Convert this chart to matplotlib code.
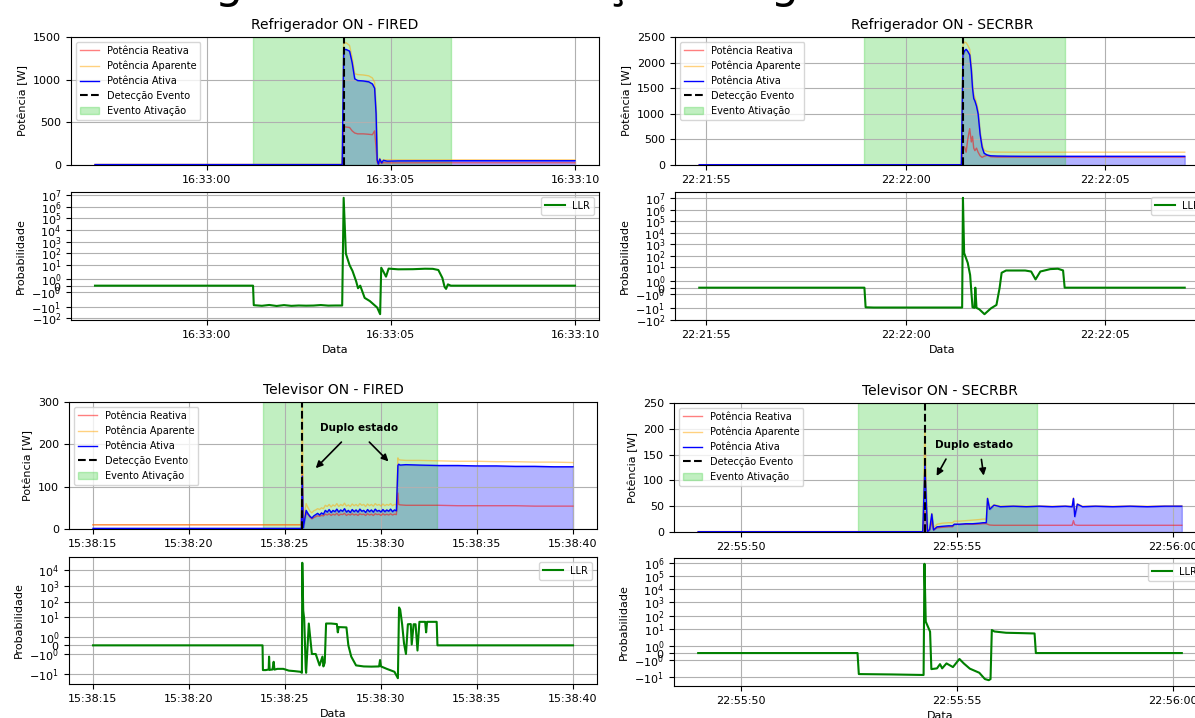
import numpy as np
import matplotlib
matplotlib.use('Agg')
import matplotlib.pyplot as plt
import matplotlib.dates as mdates
from matplotlib.ticker import MultipleLocator
from datetime import datetime, timedelta

plt.rcParams['xtick.labelsize'] = 8
plt.rcParams['ytick.labelsize'] = 8
plt.rcParams['axes.labelsize'] = 8
plt.rcParams['legend.fontsize'] = 7

# ---------------- Refrigerador ON - FIRED (segundos após 16:33:00)
rf_base = datetime(2024, 1, 1, 16, 33, 0)
rf_t = [-3.03, 3.68, 3.72, 3.78, 3.88, 3.95, 4.02, 4.1, 4.25, 4.4, 4.5, 4.56, 4.6,
        4.63, 4.66, 4.7, 4.75, 4.8, 4.9, 5.2, 6, 7, 8, 9, 10.0]
rf_ativa = [5, 5, 1350, 1355, 1335, 1200, 1010, 990, 985, 975, 950, 900, 600,
            60, 10, 70, 25, 55, 45, 48, 49, 50, 50, 50, 50]
rf_aparente = [8, 8, 1420, 1435, 1400, 1260, 1070, 1060, 1055, 1045, 1020, 970, 650,
               80, 20, 80, 40, 62, 60, 60, 60, 61, 61, 61, 61]
rf_reativa = [3, 3, 450, 445, 440, 400, 375, 365, 365, 360, 355, 400, 200,
              30, 10, 30, 20, 27, 25, 25, 26, 26, 26, 26, 26]
rf_llr_t = [-3.03, 1.26, 1.28, 1.5, 1.7, 1.9, 2.1, 2.3, 2.5, 2.7, 2.9, 3.1, 3.3, 3.5,
            3.68, 3.72, 3.78, 3.88, 3.96, 4.06, 4.11, 4.17, 4.29, 4.43, 4.63, 4.71,
            4.74, 4.8, 4.87, 4.94, 5.2, 5.6, 5.93, 6.14, 6.29, 6.40, 6.46, 6.50, 6.55,
            6.63, 10.0]
rf_llr = [0, 0, -7.5, -8.5, -7.2, -8.8, -7.4, -8.6, -8.0, -8.3, -8.1, -7.3, -8.2, -8.0,
          -8.0, 6e6, 91, 9.3, 2.9, 0.66, -0.4, 0.0, -1.9, -3.3, -12, -45,
          5.5, 2.5, 1.4, 4.6, 4.0, 4.1, 4.5, 4.4, 3.5, 1.2, -0.2, -0.5, 0.2,
          0, 0]
rf_det = 3.72
rf_span = [1.26, 6.64]

# ---------------- Refrigerador ON - SECRBR (segundos após 22:22:00)
rs_base = datetime(2024, 1, 1, 22, 22, 0)
rs_t = [-5.17, 1.40, 1.44, 1.48, 1.52, 1.56, 1.61, 1.65, 1.68, 1.71, 1.74, 1.78, 1.82,
        1.87, 1.92, 1.97, 2.05, 2.14, 2.3, 2.6, 3.0, 4.0, 5.0, 6.0, 7.0]
rs_ativa = [5, 5, 2150, 2230, 2260, 2220, 2150, 1850, 1500, 1300, 1250, 1150, 1000,
            600, 350, 230, 195, 180, 175, 172, 170, 170, 170, 170, 170]
rs_aparente = [8, 8, 2330, 2400, 2390, 2340, 2260, 1950, 1580, 1380, 1320, 1220, 1070,
               660, 400, 290, 265, 255, 252, 250, 250, 250, 250, 250, 250]
rs_reativa = [3, 3, 360, 350, 250, 500, 710, 450, 560, 330, 280, 330, 250,
              180, 150, 170, 190, 160, 155, 155, 155, 155, 155, 155, 155]
rs_llr_t = [-5.17, -1.03, -1.0, -0.8, 0, 1.0, 1.42, 1.44, 1.47, 1.56, 1.62, 1.68, 1.73,
            1.75, 1.78, 1.85, 1.98, 2.14, 2.28, 2.36, 2.41, 2.52, 3.0, 3.15, 3.26, 3.38,
            3.63, 3.82, 3.95, 3.99, 7.0]
rs_llr = [0, 0, -8, -8.4, -8.4, -8.4, -8.4, 1.1e7, 166, 23, 2, -8, -9,
          0, -9, -12, -32, -10, -5, 0, 3.1, 4.9, 4.9, 4.0, 1.3, 4.0,
          6.5, 7.0, 5.0, 0, 0]
rs_det = 1.43
rs_span = [-1.03, 4.0]

# ---------------- Televisor ON - FIRED (segundos após 15:38:15)
tf_base = datetime(2024, 1, 1, 15, 38, 15)
tf_t = [0, 10.85, 10.9, 10.95,
        11.0, 11.1, 11.2, 11.3, 11.4, 11.5, 11.6, 11.7, 11.8, 11.9,
        12.0, 12.1, 12.2, 12.3, 12.4, 12.5, 12.6, 12.7, 12.8, 12.9,
        13.0, 13.1, 13.2, 13.3, 13.4, 13.5, 13.6, 13.7, 13.8, 13.9,
        14.0, 14.1, 14.2, 14.3, 14.4, 14.5, 14.6, 14.7, 14.8, 14.9,
        15.0, 15.1, 15.2, 15.3, 15.4, 15.5, 15.6, 15.7, 15.8,
        15.88, 15.92, 16.0, 16.3, 17, 18, 19, 20, 21, 22, 23, 24, 25]
tf_ativa = [1.5, 1.5, 125, 3,
            15, 44, 36, 30, 26, 31, 34, 37, 33, 38,
            35, 44, 40, 46, 39, 44, 41, 47, 40, 45,
            42, 48, 40, 44, 39, 46, 41, 45, 40, 47,
            42, 44, 39, 46, 41, 45, 40, 47, 42, 44,
            40, 46, 41, 45, 42, 47, 41, 45, 43,
            150, 153, 151, 152, 151, 150, 150, 149, 149, 148, 148, 147, 147]
tf_aparente = [10, 10, 310, 8,
               30, 60, 50, 42, 38, 43, 45, 48, 46, 50,
               48, 56, 53, 58, 52, 57, 54, 60, 53, 58,
               55, 61, 54, 57, 53, 59, 55, 58, 54, 60,
               56, 58, 53, 59, 55, 58, 54, 60, 56, 58,
               54, 59, 55, 58, 56, 60, 55, 58, 57,
               168, 164, 163, 162, 162, 161, 160, 160, 159, 159, 158, 158, 157]
tf_reativa = [10, 10, 150, 8,
              22, 38, 34, 28, 24, 27, 29, 31, 30, 32,
              31, 35, 33, 36, 32, 35, 33, 37, 32, 35,
              34, 37, 32, 35, 33, 36, 33, 35, 32, 36,
              34, 35, 32, 36, 33, 35, 32, 36, 34, 35,
              32, 36, 33, 35, 33, 36, 33, 35, 34,
              85, 58, 57, 56, 56, 56, 55, 55, 55, 55, 54, 54, 54]
tf_llr_t = [0, 8.83, 8.85, 9.0, 9.15, 9.17, 9.2, 9.35, 9.41, 9.45, 9.6, 9.91, 10.2,
            10.5, 10.8, 10.88, 10.9, 10.95, 11.0, 11.08, 11.1, 11.24, 11.4, 11.6,
            11.8, 11.95, 12.0, 12.07, 12.14, 12.4, 12.7, 12.75, 12.8, 13.2, 13.3,
            13.45, 13.7, 14.1, 14.5, 14.9, 14.95, 15.0, 15.3, 15.7, 15.88, 15.94,
            16.0, 16.1, 16.2, 16.3, 16.4, 16.55, 16.6, 16.7, 16.8, 16.9, 17.0, 17.3,
            17.35, 17.4, 17.9, 17.94, 25]
tf_llr = [0, 0, -6.0, -6.0, -5.5, -1.3, -5.8, -5.5, -1.9, -5.6, -5.0, -5.0, -6.5,
          -7.0, -7.7, -9, 3.1e4, 26, 7.7, -5, -9, 3.9, -1.0, -1.0,
          -3.0, -1.3, -3.5, -2, 3.9, 3.9, 3.6, 1.5, 2.3, 2.2, 0,
          -1.3, -3.0, -3.5, -3.6, -3.5, -1.7, -3.5, -5, -7.7, -20, 42,
          30, 3.5, 0.2, -1.0, 3.5, 3.6, 0.1, 3.5, 3.5, -0.6, 5.0, 5.0,
          1.5, 5.0, 5.0, 0, 0]
tf_det = 10.9
tf_span = [8.87, 17.94]

# ---------------- Televisor ON - SECRBR (segundos após 22:55:50)
ts_base = datetime(2024, 1, 1, 22, 55, 50)
ts_t = [-1.0, 4.2, 4.25, 4.31, 4.36, 4.41, 4.45, 4.53, 4.65, 4.8, 4.89, 4.93, 5.05,
        5.2, 5.35, 5.5, 5.6, 5.67, 5.7, 5.75, 5.85, 6.0, 6.3, 6.6, 6.9, 7.2, 7.5,
        7.66, 7.69, 7.72, 7.78, 7.9, 8.2, 8.6, 9.0, 9.4, 9.8, 10.2]
ts_ativa = [0.5, 0.5, 130, 0.5, 5, 35, 4, 10, 11, 12, 12, 15, 15,
            16, 16, 17, 18, 18, 65, 44, 52, 49, 50, 49, 50, 49, 50,
            49, 65, 30, 54, 49, 50, 49, 50, 49, 50, 50]
ts_aparente = [1, 1, 200, 1, 8, 36, 8, 15, 17, 18, 18, 21, 21,
               22, 23, 24, 25, 25, 66, 46, 53, 50, 51, 50, 51, 50, 51,
               50, 66, 32, 55, 50, 51, 50, 51, 50, 51, 51]
ts_reativa = [0.5, 0.5, 40, 0.5, 4, 20, 4, 8, 9, 10, 10, 15, 15,
              15, 15, 15.5, 16, 16, 15, 13.5, 13, 13, 13, 13, 13, 13, 13,
              13, 22, 14, 13, 13, 13, 13, 13, 13, 13, 13]
ts_llr_t = [-1.0, 2.69, 2.72, 3.5, 4.22, 4.24, 4.27, 4.37, 4.40, 4.53, 4.6, 4.65, 4.75,
            4.9, 5.05, 5.15, 5.29, 5.51, 5.64, 5.73, 5.77, 5.80, 5.86, 6.13, 6.48,
            6.79, 6.82, 10.2]
ts_llr = [0, 0, -5.9, -6.3, -6.9, 8e5, 36, 6.3, -2.5, -2.2, -1.5, -2.2, -1.4,
          -1.9, -0.8, -1.4, -2.3, -4.7, -14, -17, -14, 8.4, 6.5, 5.2, 4.9,
          4.6, 0, 0]
ts_det = 4.25
ts_span = [2.69, 6.84]

W, H = 1195, 718
fig = plt.figure(figsize=(W / 100, H / 100), dpi=100)


def frac(left, top, right, bottom):
    return [left / W, 1 - bottom / H, (right - left) / W, (bottom - top) / H]


def to_num(base, secs):
    return mdates.date2num([base + timedelta(seconds=s) for s in secs])


def fmt_time(ax):
    ax.xaxis.set_major_locator(mdates.SecondLocator(bysecond=range(0, 60, 5)))
    ax.xaxis.set_major_formatter(mdates.DateFormatter('%H:%M:%S'))
    ax.grid(True)


def draw_panel(box_pow, box_llr, title, base, t, reat, apar, ativ, llr_t, llr,
               det, span, ymax, ystep, llr_ticks, notes=None):
    x = to_num(base, t)
    ax = fig.add_axes(frac(*box_pow))
    ax.fill_between(x, 0, ativ, color='blue', alpha=0.3)
    ax.plot(x, reat, color='red', alpha=0.5, lw=1, label='Potência Reativa')
    ax.plot(x, apar, color='orange', alpha=0.5, lw=1, label='Potência Aparente')
    ax.plot(x, ativ, color='blue', lw=1, label='Potência Ativa')
    ax.axvline(to_num(base, [det])[0], color='black', ls='--', lw=1.5, label='Detecção Evento')
    s0, s1 = to_num(base, span)
    ax.axvspan(s0, s1, color='limegreen', alpha=0.3, label='Evento Ativação')
    ax.set_ylim(0, ymax)
    ax.yaxis.set_major_locator(MultipleLocator(ystep))
    ax.set_ylabel('Potência [W]')
    ax.set_title(title, fontsize=10)
    ax.legend(loc='upper left')
    fmt_time(ax)
    if notes:
        (tx, ty), arrows = notes
        ax.text(to_num(base, [tx])[0], ty, 'Duplo estado', fontsize=7.5,
                fontweight='bold', ha='center', va='center')
        for (xs, ys), (xe, ye) in arrows:
            ax.annotate('', xy=(to_num(base, [xe])[0], ye),
                        xytext=(to_num(base, [xs])[0], ys),
                        arrowprops=dict(arrowstyle='-|>', color='black', lw=1.2))

    ax2 = fig.add_axes(frac(*box_llr))
    ax2.plot(to_num(base, llr_t), llr, color='green', lw=1.5, label='LLR')
    ax2.set_yscale('symlog')
    ax2.set_yticks(llr_ticks)
    ax2.set_xlabel('Data')
    ax2.set_ylabel('Probabilidade')
    ax2.legend(loc='upper right')
    fmt_time(ax2)


big_ticks = [-100, -10, -1, 0, 1, 10, 100, 1e3, 1e4, 1e5, 1e6, 1e7]
draw_panel((71, 37, 599, 165), (71, 192, 599, 320), 'Refrigerador ON - FIRED', rf_base,
           rf_t, rf_reativa, rf_aparente, rf_ativa, rf_llr_t, rf_llr,
           rf_det, rf_span, 1500, 500, big_ticks)
draw_panel((675, 37, 1209, 165), (675, 192, 1209, 320), 'Refrigerador ON - SECRBR', rs_base,
           rs_t, rs_reativa, rs_aparente, rs_ativa, rs_llr_t, rs_llr,
           rs_det, rs_span, 2500, 500, big_ticks)
draw_panel((69, 402, 597, 529), (69, 557, 597, 684), 'Televisor ON - FIRED', tf_base,
           tf_t, tf_reativa, tf_aparente, tf_ativa, tf_llr_t, tf_llr,
           tf_det, tf_span, 300, 100, [-10, -1, 0, 1, 10, 100, 1e3, 1e4],
           notes=((13.85, 238), [((13.04, 210), (11.5, 139)), ((14.29, 210), (15.49, 155))]))
draw_panel((674, 403, 1206, 532), (674, 558, 1206, 686), 'Televisor ON - SECRBR', ts_base,
           ts_t, ts_reativa, ts_aparente, ts_ativa, ts_llr_t, ts_llr,
           ts_det, ts_span, 250, 50, [-10, -1, 0, 1, 10, 100, 1e3, 1e4, 1e5, 1e6],
           notes=((5.39, 169), [((4.77, 146), (4.49, 104)), ((5.55, 146), (5.62, 104))]))

# titulo geral (cortado na borda superior, como no original)
fig.text(172 / W, 1 + 2 / H, 'Algoritmo de Detecção – Ligamento', fontsize=32,
         ha='left', va='baseline')

fig.savefig('out.png', dpi=100)
